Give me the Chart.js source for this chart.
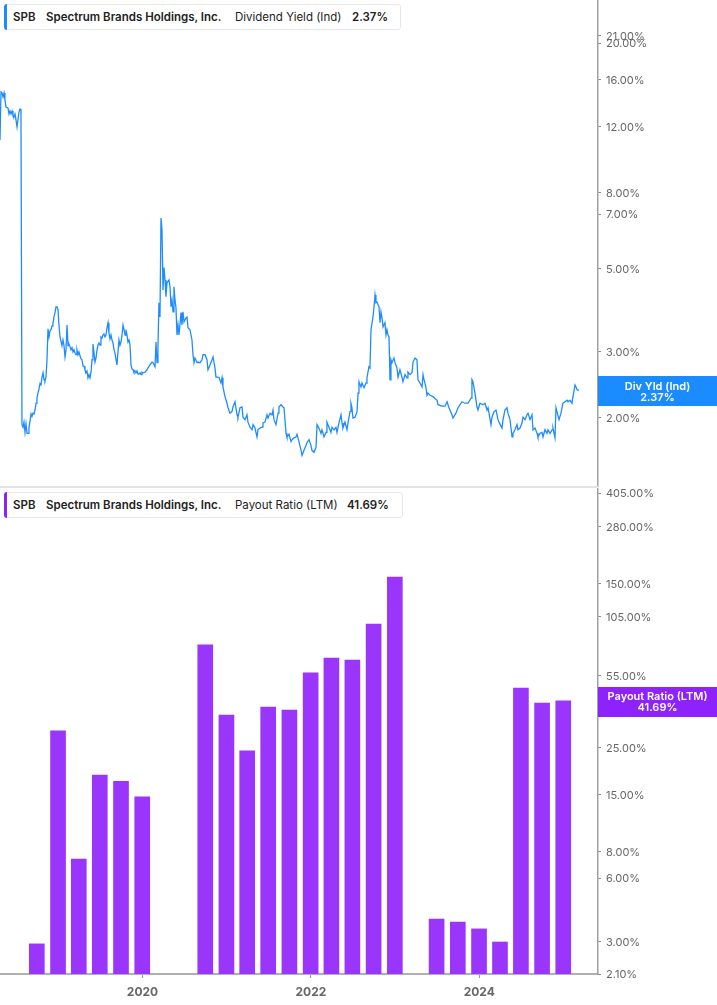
<!DOCTYPE html>
<html>
<head>
<meta charset="utf-8">
<script src="https://cdn.jsdelivr.net/npm/chart.js@4.4.1/dist/chart.umd.min.js"></script>
<style>
  body { margin: 0; background: #fff; font-family: Inter, sans-serif; }
  #wrap { position: relative; width: 717px; height: 1005px; overflow: hidden; }
  .pane { position: absolute; left: 0; width: 717px; }
  #topPane { top: 0; height: 487px; }
  #botPane { top: 488px; height: 517px; }
  #sep { position: absolute; left: 0; top: 486px; width: 598px; height: 2px; background: #e3e3e3; }
  .legend { position: absolute; left: 4px; height: 26px; background: #fff; border: 1px solid #e8e8e8;
            border-radius: 3px; box-sizing: border-box; font-size: 11.5px; color: #222; z-index: 2; }
  .legend .mark { position: absolute; left: -1px; top: -1px; bottom: -1px; width: 3px; border-radius: 3px 0 0 3px; }
  .legend span { position: absolute; top: 0; line-height: 25px; white-space: nowrap; }
  .b { font-weight: 600; }
</style>
</head>
<body>
<div id="wrap">
  <div class="pane" id="topPane"><canvas id="yieldChart" width="717" height="487"></canvas></div>
  <div class="pane" id="botPane"><canvas id="payoutChart" width="717" height="517"></canvas></div>
  <div id="sep"></div>
  <div class="legend" style="top:4px; width:397px;">
    <div class="mark" style="background:#1e8cff"></div>
    <span class="b" style="left:8px">SPB</span>
    <span class="b" style="left:41px">Spectrum Brands Holdings, Inc.</span>
    <span style="left:230px">Dividend Yield (Ind)</span>
    <span class="b" style="left:347px">2.37%</span>
  </div>
  <div class="legend" style="top:492px; width:399px;">
    <div class="mark" style="background:#8e22fa"></div>
    <span class="b" style="left:8px">SPB</span>
    <span class="b" style="left:41px">Spectrum Brands Holdings, Inc.</span>
    <span style="left:230px">Payout Ratio (LTM)</span>
    <span class="b" style="left:342px">41.69%</span>
  </div>
</div>
<script>
// x range (decimal years) and year ticks
const xMin = 2018.308;
const xMax = 2025.41;
const yearTicks = [2020, 2022, 2024];

// dividend yield (%), [decimal year, value]
const yieldSeries = [
  [2018.308, 11.03], [2018.320, 14.82], [2018.332, 14.73], [2018.344, 14.37], [2018.356, 14.73],
  [2018.367, 14.11], [2018.379, 13.51], [2018.403, 13.43], [2018.415, 12.94], [2018.427, 13.18],
  [2018.439, 12.94], [2018.451, 13.18], [2018.462, 12.86], [2018.474, 12.71], [2018.486, 12.94],
  [2018.498, 12.48], [2018.510, 11.95], [2018.522, 12.55], [2018.534, 13.10], [2018.546, 13.35],
  [2018.557, 13.27], [2018.569, 1.92], [2018.581, 1.89], [2018.593, 1.95], [2018.605, 1.83],
  [2018.617, 1.93], [2018.629, 1.82], [2018.641, 1.82], [2018.652, 1.88], [2018.664, 1.96],
  [2018.676, 2.05], [2018.688, 2.02], [2018.700, 2.06], [2018.712, 2.05], [2018.724, 2.10],
  [2018.736, 2.19], [2018.747, 2.26], [2018.759, 2.33], [2018.771, 2.39], [2018.783, 2.47],
  [2018.795, 2.45], [2018.807, 2.57], [2018.819, 2.64], [2018.831, 2.53], [2018.842, 2.51],
  [2018.854, 2.57], [2018.866, 2.86], [2018.878, 3.46], [2018.890, 3.29], [2018.902, 3.42],
  [2018.914, 3.44], [2018.926, 3.52], [2018.937, 3.57], [2018.949, 3.72], [2018.961, 3.82],
  [2018.973, 3.96], [2018.985, 3.96], [2018.997, 3.89], [2019.009, 3.52], [2019.021, 3.29],
  [2019.032, 3.29], [2019.044, 3.12], [2019.056, 3.23], [2019.068, 3.12], [2019.080, 2.91],
  [2019.092, 3.04], [2019.104, 3.54], [2019.116, 3.12], [2019.127, 3.15], [2019.139, 3.10],
  [2019.151, 3.04], [2019.163, 3.08], [2019.175, 3.00], [2019.187, 3.04], [2019.199, 2.98],
  [2019.211, 2.95], [2019.222, 3.04], [2019.234, 2.95], [2019.246, 3.00], [2019.258, 2.93],
  [2019.270, 2.88], [2019.282, 2.86], [2019.294, 2.75], [2019.306, 2.75], [2019.317, 2.69],
  [2019.329, 2.64], [2019.341, 2.67], [2019.353, 2.56], [2019.365, 2.61], [2019.377, 2.56],
  [2019.389, 2.65], [2019.401, 2.86], [2019.412, 3.15], [2019.424, 3.00], [2019.436, 2.82],
  [2019.448, 2.89], [2019.460, 3.04], [2019.472, 3.13], [2019.484, 3.17], [2019.496, 3.13],
  [2019.507, 3.29], [2019.519, 3.27], [2019.531, 3.33], [2019.543, 3.35], [2019.555, 3.29],
  [2019.567, 3.33], [2019.579, 3.48], [2019.591, 3.59], [2019.602, 3.37], [2019.614, 3.25],
  [2019.626, 3.33], [2019.638, 3.23], [2019.650, 3.17], [2019.662, 3.04], [2019.674, 2.98],
  [2019.686, 2.86], [2019.697, 2.77], [2019.709, 3.00], [2019.721, 3.23], [2019.733, 3.13],
  [2019.745, 3.19], [2019.757, 3.33], [2019.769, 3.54], [2019.781, 3.44], [2019.793, 3.33],
  [2019.804, 3.44], [2019.816, 3.33], [2019.828, 3.19], [2019.840, 3.23], [2019.852, 3.13],
  [2019.864, 2.77], [2019.876, 2.70], [2019.888, 2.69], [2019.899, 2.65], [2019.911, 2.67],
  [2019.923, 2.64], [2019.935, 2.67], [2019.947, 2.62], [2019.959, 2.62], [2019.971, 2.64],
  [2019.983, 2.61], [2019.994, 2.65], [2020.006, 2.64], [2020.030, 2.65], [2020.054, 2.69],
  [2020.066, 2.72], [2020.089, 2.77], [2020.113, 2.82], [2020.125, 2.81], [2020.149, 2.74],
  [2020.161, 3.19], [2020.173, 2.81], [2020.184, 3.10], [2020.196, 4.06], [2020.208, 3.72],
  [2020.220, 6.83], [2020.232, 6.35], [2020.244, 4.39], [2020.256, 5.04], [2020.268, 4.67],
  [2020.279, 4.21], [2020.291, 4.59], [2020.315, 4.67], [2020.327, 4.48], [2020.339, 3.96],
  [2020.351, 4.13], [2020.363, 3.84], [2020.374, 4.48], [2020.386, 4.13], [2020.398, 3.94],
  [2020.410, 3.33], [2020.422, 3.54], [2020.434, 3.33], [2020.458, 3.82], [2020.469, 3.54],
  [2020.481, 3.84], [2020.493, 3.61], [2020.517, 3.70], [2020.529, 3.72], [2020.541, 3.48],
  [2020.564, 3.44], [2020.588, 3.23], [2020.600, 2.95], [2020.612, 2.81], [2020.624, 2.89],
  [2020.648, 2.81], [2020.659, 2.82], [2020.683, 2.81], [2020.707, 2.86], [2020.719, 2.95],
  [2020.743, 2.95], [2020.766, 2.86], [2020.778, 2.69], [2020.802, 2.77], [2020.826, 2.86],
  [2020.838, 2.91], [2020.861, 2.72], [2020.873, 2.57], [2020.897, 2.57], [2020.909, 2.56],
  [2020.933, 2.48], [2020.945, 2.56], [2020.956, 2.42], [2020.980, 2.28], [2021.004, 2.19],
  [2021.016, 2.13], [2021.039, 2.06], [2021.063, 2.08], [2021.075, 2.14], [2021.099, 2.21],
  [2021.123, 2.04], [2021.134, 2.01], [2021.158, 2.13], [2021.182, 2.14], [2021.194, 2.01],
  [2021.218, 1.98], [2021.241, 2.04], [2021.253, 1.95], [2021.277, 1.89], [2021.301, 1.86],
  [2021.313, 1.92], [2021.336, 1.88], [2021.360, 1.78], [2021.372, 1.86], [2021.396, 1.88],
  [2021.420, 1.89], [2021.431, 1.94], [2021.455, 1.95], [2021.479, 2.04], [2021.491, 2.00],
  [2021.515, 2.06], [2021.538, 2.04], [2021.550, 2.10], [2021.562, 1.98], [2021.586, 1.92],
  [2021.610, 2.06], [2021.621, 2.14], [2021.645, 2.17], [2021.669, 2.14], [2021.681, 2.13],
  [2021.705, 1.82], [2021.716, 1.78], [2021.740, 1.81], [2021.764, 1.73], [2021.776, 1.75],
  [2021.800, 1.77], [2021.823, 1.78], [2021.835, 1.81], [2021.859, 1.73], [2021.883, 1.64],
  [2021.895, 1.59], [2021.918, 1.64], [2021.942, 1.69], [2021.954, 1.72], [2021.978, 1.75],
  [2022.001, 1.69], [2022.013, 1.64], [2022.037, 1.62], [2022.061, 1.67], [2022.073, 1.92],
  [2022.096, 1.88], [2022.120, 1.82], [2022.132, 1.86], [2022.156, 1.78], [2022.180, 1.83],
  [2022.191, 1.95], [2022.215, 1.89], [2022.239, 1.83], [2022.251, 1.89], [2022.275, 1.86],
  [2022.298, 1.89], [2022.310, 1.83], [2022.334, 1.94], [2022.358, 2.04], [2022.370, 1.94],
  [2022.381, 1.88], [2022.405, 1.95], [2022.429, 1.86], [2022.441, 1.94], [2022.465, 2.08],
  [2022.476, 2.19], [2022.488, 2.13], [2022.500, 2.00], [2022.524, 2.01], [2022.548, 2.08],
  [2022.560, 2.33], [2022.571, 2.50], [2022.595, 2.42], [2022.607, 2.48], [2022.631, 2.41],
  [2022.655, 2.48], [2022.666, 2.56], [2022.690, 2.74], [2022.702, 2.72], [2022.714, 3.44],
  [2022.738, 3.72], [2022.750, 3.96], [2022.762, 4.26], [2022.773, 4.06], [2022.785, 4.08],
  [2022.809, 3.96], [2022.821, 3.59], [2022.833, 3.84], [2022.845, 3.70], [2022.857, 3.50],
  [2022.880, 3.59], [2022.892, 3.33], [2022.904, 3.44], [2022.916, 3.33], [2022.928, 3.29],
  [2022.940, 2.53], [2022.951, 2.86], [2022.963, 2.81], [2022.987, 2.89], [2022.999, 2.81],
  [2023.023, 2.72], [2023.035, 2.57], [2023.058, 2.69], [2023.082, 2.57], [2023.094, 2.50],
  [2023.118, 2.61], [2023.142, 2.56], [2023.153, 2.65], [2023.177, 2.61], [2023.201, 2.64],
  [2023.213, 2.82], [2023.237, 2.89], [2023.260, 2.86], [2023.272, 2.53], [2023.296, 2.48],
  [2023.320, 2.42], [2023.332, 2.61], [2023.344, 2.53], [2023.367, 2.41], [2023.379, 2.30],
  [2023.391, 2.33], [2023.415, 2.30], [2023.450, 2.28], [2023.498, 2.23], [2023.510, 2.17],
  [2023.557, 2.15], [2023.593, 2.15], [2023.617, 2.21], [2023.640, 2.13], [2023.676, 2.04],
  [2023.688, 2.00], [2023.723, 2.06], [2023.747, 2.13], [2023.795, 2.21], [2023.830, 2.19],
  [2023.866, 2.19], [2023.902, 2.26], [2023.913, 2.53], [2023.925, 2.50], [2023.949, 2.33],
  [2023.973, 2.14], [2023.985, 2.10], [2024.008, 2.19], [2024.044, 2.17], [2024.068, 2.19],
  [2024.092, 2.10], [2024.104, 2.13], [2024.139, 1.92], [2024.151, 2.01], [2024.175, 2.08],
  [2024.199, 2.10], [2024.222, 1.98], [2024.234, 1.95], [2024.270, 1.88], [2024.282, 1.98],
  [2024.305, 2.10], [2024.329, 2.13], [2024.341, 2.06], [2024.365, 1.98], [2024.389, 1.78],
  [2024.400, 1.82], [2024.424, 1.86], [2024.448, 1.92], [2024.460, 1.86], [2024.484, 1.88],
  [2024.507, 1.94], [2024.519, 2.01], [2024.543, 1.98], [2024.567, 2.04], [2024.579, 2.06],
  [2024.602, 1.98], [2024.626, 2.04], [2024.638, 1.86], [2024.662, 1.88], [2024.686, 1.82],
  [2024.697, 1.78], [2024.721, 1.82], [2024.745, 1.83], [2024.757, 1.78], [2024.780, 1.86],
  [2024.804, 1.82], [2024.816, 1.86], [2024.840, 1.82], [2024.864, 1.86], [2024.875, 1.88],
  [2024.899, 1.77], [2024.911, 2.13], [2024.923, 2.08], [2024.947, 1.98], [2024.970, 2.06],
  [2024.994, 2.19], [2025.018, 2.21], [2025.042, 2.23], [2025.054, 2.21], [2025.077, 2.23],
  [2025.101, 2.19], [2025.113, 2.28], [2025.137, 2.45], [2025.149, 2.42], [2025.161, 2.38],
  [2025.184, 2.37]
];
const yieldTicks = [2, 3, 5, 7, 8, 12, 16, 20, 21];

// payout ratio (LTM, %), by fiscal quarter end
const quarters = [
  '2018-09-30', '2018-12-31', '2019-03-31', '2019-06-30', '2019-09-30', '2019-12-31',
  '2020-03-31', '2020-06-30', '2020-09-30', '2020-12-31', '2021-03-31', '2021-06-30',
  '2021-09-30', '2021-12-31', '2022-03-31', '2022-06-30', '2022-09-30', '2022-12-31',
  '2023-03-31', '2023-06-30', '2023-09-30', '2023-12-31', '2024-03-31', '2024-06-30',
  '2024-09-30', '2024-12-31'
];
const payoutValues = [
  2.92, 30.0, 7.39, 18.5, 17.3, 14.6,
  null, null, 76.9, 35.7, 24.1, 39.0,
  37.7, 56.6, 66.6, 65.2, 96.5, 161.7,
  null, 3.83, 3.71, 3.44, 2.98, 48.0,
  40.7, 41.69
];
const payoutTicks = [2.1, 3, 6, 8, 15, 25, 55, 105, 150, 280, 405];

function toYear(s) {
  const d = new Date(s + 'T00:00:00Z');
  const y = d.getUTCFullYear();
  const start = Date.UTC(y, 0, 1), end = Date.UTC(y + 1, 0, 1);
  return y + (d.getTime() - start) / (end - start);
}

Chart.defaults.font.family = 'Inter, sans-serif';
Chart.defaults.font.size = 11;
Chart.defaults.color = '#666';

const pct = v => Number(v).toFixed(2) + '%';

// tag on the right axis at the last value
const lastTag = {
  id: 'lastTag',
  afterDraw(chart, args, opts) {
    const ctx = chart.ctx;
    const y = chart.scales.y.getPixelForValue(opts.value);
    const x0 = chart.chartArea.right;
    const w = chart.width - x0;
    ctx.save();
    ctx.fillStyle = opts.color;
    ctx.fillRect(x0, Math.round(y) - 14, w, 30);
    ctx.fillStyle = '#fff';
    ctx.font = '600 11px Inter, sans-serif';
    ctx.textAlign = 'center';
    ctx.textBaseline = 'middle';
    ctx.fillText(opts.title, x0 + w / 2, y - 4);
    ctx.fillText(opts.text, x0 + w / 2, y + 7);
    ctx.restore();
  }
};

function yAxis(min, max, tickValues) {
  return {
    type: 'logarithmic',
    position: 'right',
    min: min,
    max: max,
    afterBuildTicks: s => { s.ticks = tickValues.map(v => ({ value: v })); },
    afterFit: s => { s.width = 119; s.paddingTop = 0; s.paddingBottom = 0; },
    grid: { drawOnChartArea: false, drawTicks: true, tickLength: 3, color: '#888' },
    border: { color: '#a0a0a0', width: 1.5 },
    ticks: { autoSkip: false, padding: 5, labelOffset: 1, color: '#666', font: { size: 11 }, callback: pct }
  };
}

new Chart(document.getElementById('yieldChart'), {
  type: 'line',
  data: {
    datasets: [{
      data: yieldSeries.map(p => ({ x: p[0], y: p[1] })),
      borderColor: '#1e8cff',
      borderWidth: 1.3,
      pointRadius: 0,
      tension: 0
    }]
  },
  options: {
    responsive: false,
    animation: false,
    devicePixelRatio: 1,
    layout: { padding: 0 },
    scales: {
      x: { type: 'linear', min: xMin, max: xMax, display: false },
      y: yAxis(1.309, 26.07, yieldTicks)
    },
    plugins: {
      legend: { display: false },
      tooltip: { enabled: false },
      lastTag: { value: 2.37, color: '#1a8cff', title: 'Div Yld (Ind)', text: '2.37%' }
    }
  },
  plugins: [lastTag]
});

new Chart(document.getElementById('payoutChart'), {
  type: 'bar',
  data: {
    datasets: [{
      data: quarters.map((q, i) => ({ x: toYear(q), y: payoutValues[i] })),
      backgroundColor: '#9a36fc',
      barThickness: 15
    }]
  },
  options: {
    responsive: false,
    animation: false,
    devicePixelRatio: 1,
    layout: { padding: 0 },
    scales: {
      x: {
        type: 'linear',
        min: xMin,
        max: xMax,
        offset: false,
        afterBuildTicks: s => { s.ticks = yearTicks.map(v => ({ value: v })); },
        afterFit: s => { s.height = 31; s.paddingLeft = 0; s.paddingRight = 0; },
        grid: { offset: false, drawOnChartArea: false, drawTicks: true, tickLength: 4, color: '#999' },
        border: { color: '#b0b0b0', width: 2 },
        ticks: { autoSkip: false, maxRotation: 0, padding: 7, color: '#666',
                 font: { size: 12, weight: 'bold' }, callback: v => String(v) }
      },
      y: yAxis(2.1, 428, payoutTicks)
    },
    plugins: {
      legend: { display: false },
      tooltip: { enabled: false },
      lastTag: { value: 41.69, color: '#8e22fa', title: 'Payout Ratio (LTM)', text: '41.69%' }
    }
  },
  plugins: [lastTag]
});
</script>
</body>
</html>
